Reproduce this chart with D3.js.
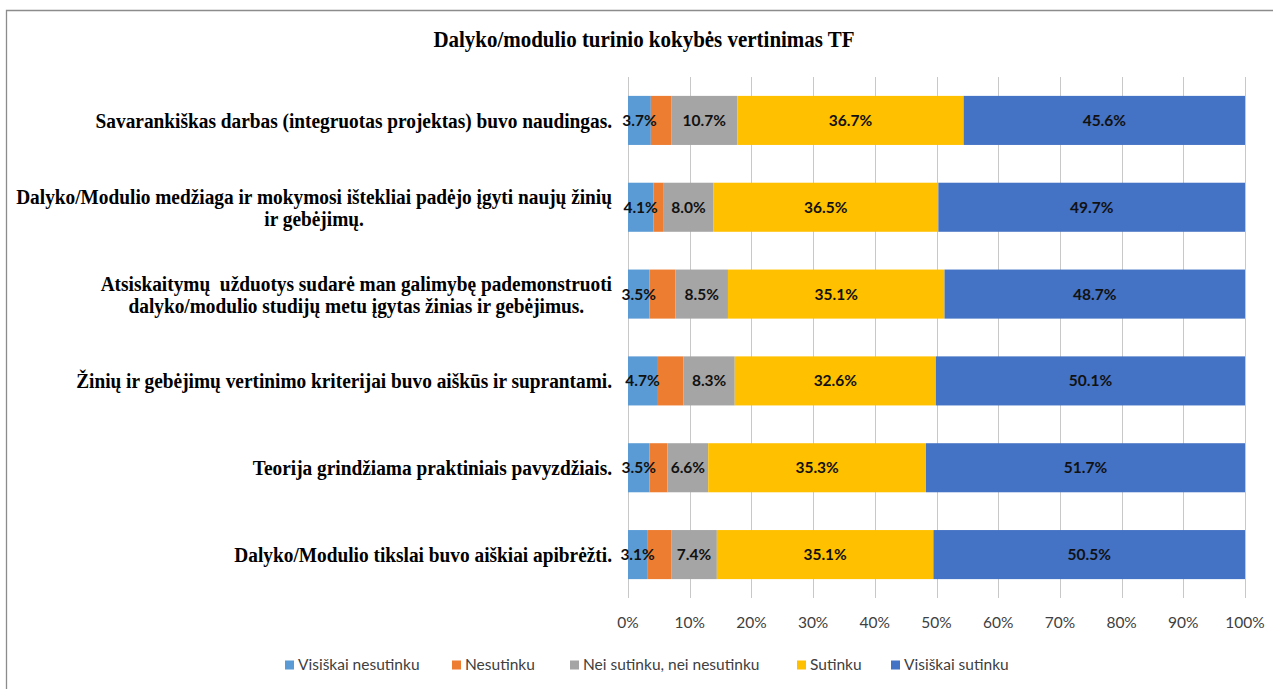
<!DOCTYPE html>
<html>
<head>
<meta charset="utf-8">
<script src="https://cdn.jsdelivr.net/npm/d3@7"></script>
<style>
  body { margin: 0; background: #fff; }
  svg { display: block; }
  .cat text { white-space: pre; }
</style>
</head>
<body>
<div id="graph"></div>
<script>
// chart data
var title = "Dalyko/modulio turinio kokybės vertinimas TF";

var categories = [
  "Savarankiškas darbas (integruotas projektas) buvo naudingas.",
  "Dalyko/Modulio medžiaga ir mokymosi ištekliai padėjo įgyti naujų žinių\nir gebėjimų.",
  "Atsiskaitymų  užduotys sudarė man galimybę pademonstruoti\ndalyko/modulio studijų metu įgytas žinias ir gebėjimus.",
  "Žinių ir gebėjimų vertinimo kriterijai buvo aiškūs ir suprantami.",
  "Teorija grindžiama praktiniais pavyzdžiais.",
  "Dalyko/Modulio tikslai buvo aiškiai apibrėžti."
];

var seriesNames = ["Visiškai nesutinku", "Nesutinku", "Nei sutinku, nei nesutinku", "Sutinku", "Visiškai sutinku"];
var seriesColors = ["#5B9BD5", "#ED7D31", "#A5A5A5", "#FFC000", "#4472C4"];

var visiskaiNesutinku = [3.7, 4.1, 3.5, 4.7, 3.5, 3.1];
var nesutinku        = [3.3, 1.7, 4.2, 4.3, 2.9, 3.9];
var neiSutinku       = [10.7, 8.0, 8.5, 8.3, 6.6, 7.4];
var sutinku          = [36.7, 36.5, 35.1, 32.6, 35.3, 35.1];
var visiskaiSutinku  = [45.6, 49.7, 48.7, 50.1, 51.7, 50.5];

var showLabel = [true, false, true, true, true];

var tickValues = [0, 10, 20, 30, 40, 50, 60, 70, 80, 90, 100];

// ---------------------------------------------------------------
var W = 1273, H = 689;
var series = [visiskaiNesutinku, nesutinku, neiSutinku, sutinku, visiskaiSutinku];

var svg = d3.select('#graph').append('svg')
  .attr("width", W)
  .attr("height", H);

// outer frame (only top and left edges visible)
svg.append("path")
  .attr("d", "M6.5," + H + "V10.5H" + W)
  .attr("fill", "none")
  .attr("stroke", "#8C8C8C")
  .attr("stroke-width", 1.3);

// title, serif drawn a bit narrow like the original
svg.append("g")
  .attr("transform", "translate(644,47) scale(0.9,1)")
  .append("text")
  .attr("text-anchor", "middle")
  .attr("font-family", "'Liberation Serif', serif")
  .attr("font-weight", "bold")
  .attr("font-size", 23.3)
  .attr("fill", "#000")
  .text(title);

var x = d3.scaleLinear().domain([0, 100]).range([628, 1245]);
var y = d3.scaleBand()
  .domain(d3.range(categories.length))
  .range([77, 598])
  .paddingInner(0.435)
  .paddingOuter(0.2175);

// grid lines
svg.append("g").selectAll("line")
  .data(tickValues)
  .enter().append("line")
  .attr("x1", function(d) { return Math.round(x(d)) + 0.5; })
  .attr("x2", function(d) { return Math.round(x(d)) + 0.5; })
  .attr("y1", 77)
  .attr("y2", 598)
  .style("stroke", "#C8C8C8")
  .style("stroke-width", 1);

// stacked layout
var rows = categories.map(function(c, i) {
  var x0 = 0;
  return series.map(function(s, k) {
    var seg = {row: i, k: k, v: s[i], x0: x0, x1: x0 + s[i]};
    x0 += s[i];
    return seg;
  });
});
var segs = [].concat.apply([], rows);

svg.append("g").selectAll("rect")
  .data(segs)
  .enter().append("rect")
  .attr("x", function(d) { return x(d.x0); })
  .attr("width", function(d) { return Math.min(x(d.x1), x(100)) - x(d.x0); })
  .attr("y", function(d) { return y(d.row); })
  .attr("height", y.bandwidth())
  .attr("fill", function(d) { return seriesColors[d.k]; });

// value labels
svg.append("g").selectAll("text")
  .data(segs.filter(function(d) { return showLabel[d.k]; }))
  .enter().append("text")
  .attr("x", function(d) { return x((d.x0 + d.x1) / 2); })
  .attr("y", function(d) { return y(d.row) + y.bandwidth() / 2; })
  .attr("dy", "0.35em")
  .attr("text-anchor", "middle")
  .attr("font-family", "Lato, sans-serif")
  .attr("font-weight", "bold")
  .attr("font-size", 15.5)
  .attr("fill", "#111")
  .text(function(d) { return d.v.toFixed(1) + "%"; });

// x axis labels
svg.append("g").selectAll("text")
  .data(tickValues)
  .enter().append("text")
  .attr("x", function(d) { return x(d); })
  .attr("y", 623)
  .attr("dy", "0.35em")
  .attr("text-anchor", "middle")
  .attr("font-family", "Lato, sans-serif")
  .attr("font-size", 15.5)
  .attr("fill", "#404040")
  .text(function(d) { return d + "%"; });

// category labels: block right-aligned at 612, lines centred inside block
var sx = 0.9;
var catG = svg.append("g")
  .attr("class", "cat")
  .attr("transform", "translate(612,0) scale(" + sx + ",1)")
  .attr("font-family", "'Liberation Serif', serif")
  .attr("font-weight", "bold")
  .attr("font-size", 21.5)
  .attr("fill", "#000");

categories.forEach(function(c, i) {
  var lines = c.split("\n");
  var t = catG.append("text").attr("text-anchor", "middle");
  var cy = y(i) + y.bandwidth() / 2;
  var lh = 22;
  var spans = lines.map(function(l, j) {
    return t.append("tspan")
      .attr("y", cy + (j - (lines.length - 1) / 2) * lh)
      .attr("dy", "0.35em")
      .text(l);
  });
  var maxW = d3.max(spans, function(s) { return s.node().getComputedTextLength(); });
  spans.forEach(function(s) { s.attr("x", -maxW / 2); });
});

// legend
var legendX = [285, 452, 570, 797, 891];
var lg = svg.append("g").selectAll("g")
  .data(seriesNames)
  .enter().append("g")
  .attr("transform", function(d, i) { return "translate(" + legendX[i] + ",665)"; });
lg.append("rect")
  .attr("x", 0).attr("y", -4.5)
  .attr("width", 9).attr("height", 9)
  .attr("fill", function(d, i) { return seriesColors[i]; });
lg.append("text")
  .attr("x", 13)
  .attr("dy", "0.35em")
  .attr("font-family", "Lato, sans-serif")
  .attr("font-size", 15.5)
  .attr("fill", "#404040")
  .text(function(d) { return d; });
</script>
</body>
</html>
